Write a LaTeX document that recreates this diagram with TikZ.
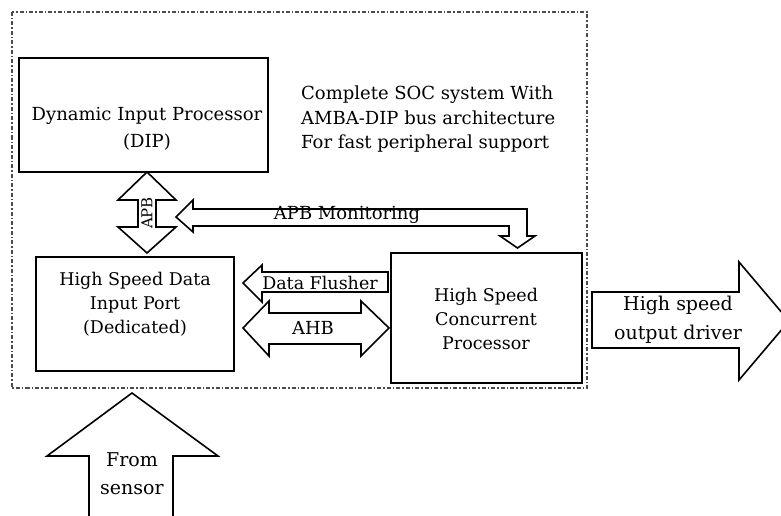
\documentclass[tikz,border=0pt]{standalone}
\usepackage{fontspec}
\setmainfont{DejaVu Serif}
\begin{document}
\begin{tikzpicture}[x=1pt,y=-1pt,
  box/.style={draw,line width=1.8pt,inner sep=0pt},
  lbl/.style={align=center,font=\fontsize{18}{24.5}\selectfont,inner sep=0pt},
  blk/.style={draw,line width=1.6pt,line join=miter,fill=white},
  frame/.style={draw=black!70,line width=1.2pt,dash pattern=on 4pt off 2pt on 1.5pt off 2pt}]
\useasboundingbox (0,0) rectangle (781,516);
\clip (0,0) rectangle (781,516);
\draw[frame] (12,12) rectangle (587,388);
% boxes
\node[box,minimum width=249pt,minimum height=114pt] (dip) at (143.5,115) {};
\node[lbl,font=\fontsize{18}{27}\selectfont] (diptxt) at (147,128.5) {Dynamic Input Processor\\(DIP)};
\node[box,minimum width=198pt,minimum height=114pt] (hsdip) at (135,314) {};
\node[lbl,font=\fontsize{17.5}{24}\selectfont] (hsdiptxt) at (135,304) {High Speed Data\\Input Port\\(Dedicated)};
\node[box,minimum width=191pt,minimum height=130pt] (hscp) at (486.5,318) {};
\node[lbl,font=\fontsize{17.5}{24}\selectfont] (hscptxt) at (486,319) {High Speed\\Concurrent\\Processor};
\node[lbl,align=left,anchor=west] (note) at (301,119.5) {Complete SOC system With\\AMBA-DIP bus architecture\\For fast peripheral  support};
% APB vertical double arrow
\draw[blk] (147,172) -- (176,200) -- (156,200) -- (156,227) -- (176,227) -- (147,253) -- (118,227) -- (138,227) -- (138,200) -- (118,200) -- cycle;
\node[lbl,rotate=90,font=\fontsize{15}{18}\selectfont] (apb) at (147,213) {APB};
% APB Monitoring
\draw[blk] (176,217) -- (193,200) -- (193,209) -- (527,209) -- (527,236) -- (535,236) -- (517.5,248) -- (500,236) -- (509,236) -- (509,226) -- (193,226) -- (193,232) -- cycle;
\node[lbl] (apbm) at (347,215) {APB Monitoring};
% Data flusher
\draw[blk] (243,283) -- (262,265) -- (262,272) -- (388,272) -- (388,292) -- (262,292) -- (262,302) -- cycle;
\node[lbl,font=\fontsize{17.5}{20}\selectfont] (df) at (320,283) {Data Flusher};
% AHB
\draw[blk] (243,328) -- (269,301) -- (269,313) -- (361,313) -- (361,301) -- (389,328) -- (361,356) -- (361,344) -- (269,344) -- (269,356) -- cycle;
\node[lbl] (ahb) at (313,328) {AHB};
% output driver
\draw[blk] (592,292) -- (739,292) -- (739,262) -- (789,321) -- (739,380) -- (739,348) -- (592,348) -- cycle;
\node[lbl,font=\fontsize{19}{29}\selectfont] (out) at (678,320) {High speed\\output driver};
% from sensor
\draw[blk] (132,393) -- (218,456) -- (173,456) -- (173,530) -- (89,530) -- (89,456) -- (47,456) -- cycle;
\node[lbl,font=\fontsize{19}{28}\selectfont] (sensor) at (132,474) {From\\sensor};
\end{tikzpicture}
\end{document}
